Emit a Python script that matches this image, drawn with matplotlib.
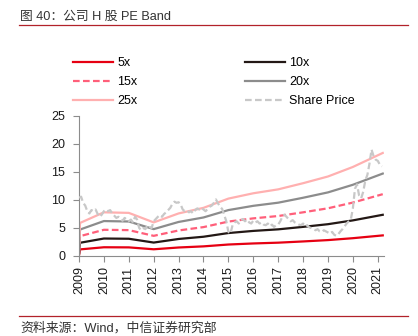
import matplotlib
matplotlib.use("Agg")
import matplotlib.pyplot as plt
from matplotlib.lines import Line2D

plt.rcParams["font.family"] = ["Liberation Sans", "Noto Sans CJK SC"]

# EPS anchor points (price = multiple x EPS)
eps_years = [2009.0, 2009.04, 2010.0, 2011.0, 2012.0, 2013.0, 2014.0, 2015.0,
             2016.0, 2017.0, 2018.0, 2019.0, 2020.0, 2021.2]
eps_vals = [0.03, 0.236, 0.312, 0.308, 0.240, 0.304, 0.344, 0.410,
            0.448, 0.476, 0.520, 0.568, 0.636, 0.736]
multiples = [5, 10, 15, 20, 25]

# monthly share price (HKD), Jan 2009 - Mar 2021
price_2009 = [10.4, 10.6, 9.5, 9.0, 8.0, 7.6, 8.2, 8.0, 8.3, 7.5, 7.0, 7.4]
price_2010 = [8.0, 8.3, 8.0, 8.2, 7.6, 7.2, 6.8, 7.0, 6.6, 6.3, 6.8, 6.5]
price_2011 = [6.2, 6.5, 6.0, 7.0, 6.5, 5.0, 4.6, 5.0, 4.8, 5.5, 5.2, 5.0]
price_2012 = [6.2, 6.6, 7.0, 7.3, 7.0, 7.5, 7.8, 8.2, 8.6, 9.3, 9.7, 9.5]
price_2013 = [9.6, 9.2, 8.3, 8.0, 8.2, 7.8, 8.0, 7.6, 8.2, 8.5, 8.3, 8.6]
price_2014 = [8.3, 8.0, 8.4, 8.8, 9.0, 9.5, 10.1, 9.4, 8.8, 8.4, 7.3, 6.2]
price_2015 = [4.3, 4.0, 5.5, 6.0, 6.2, 5.8, 6.4, 6.6, 6.2, 6.5, 6.0, 5.8]
price_2016 = [6.3, 6.0, 6.2, 5.8, 6.0, 5.6, 5.5, 5.8, 5.3, 5.6, 5.2, 5.5]
price_2017 = [5.6, 6.2, 7.0, 7.4, 7.0, 6.6, 6.2, 6.4, 6.0, 5.8, 5.6, 5.5]
price_2018 = [5.8, 5.3, 5.5, 5.1, 5.0, 4.8, 4.6, 4.8, 4.4, 4.3, 4.6, 4.4]
price_2019 = [4.2, 4.0, 4.3, 3.8, 3.6, 3.9, 4.4, 4.8, 5.3, 5.8, 6.2, 6.5]
price_2020 = [8.5, 12.0, 12.8, 10.8, 10.3, 11.5, 13.5, 14.5, 16.5, 19.0, 17.8, 17.2]
price_2021 = [17.0, 16.3, 16.0]

price_by_year = [price_2009, price_2010, price_2011, price_2012, price_2013,
                 price_2014, price_2015, price_2016, price_2017, price_2018,
                 price_2019, price_2020, price_2021]
price_x = []
price_y = []
for i, vals in enumerate(price_by_year):
    for m, v in enumerate(vals):
        price_x.append(2009 + i + m / 12)
        price_y.append(v)

year_ticks = list(range(2009, 2022))

COLORS = {5: "#e60012", 10: "#231815", 15: "#ff5f7a", 20: "#8c8c8c", 25: "#ffb0b0"}

fig = plt.figure(figsize=(4.18, 3.36), dpi=100)
fig.patch.set_facecolor("white")
ax = fig.add_axes([79 / 418, 1 - 256 / 336, (384 - 79) / 418, (256 - 116) / 336])

lines = {}
for k in multiples:
    ls = (0, (3, 1.5)) if k == 15 else "-"
    lines[k], = ax.plot(eps_years, [k * e for e in eps_vals], color=COLORS[k],
                        lw=1.6, ls=ls, zorder=2, label=f"{k}x")
sp, = ax.plot(price_x, price_y, color="#c8c8c8", lw=1.6, ls=(0, (3, 1.5)),
              zorder=3, label="Share Price")

ax.set_xlim(2009, 2021.25)
ax.set_ylim(0, 25)
ax.set_xticks(year_ticks)
ax.set_xticklabels([str(y) for y in year_ticks], rotation=90)
ax.set_yticks([0, 5, 10, 15, 20, 25])
for s in ["top", "right"]:
    ax.spines[s].set_visible(False)
for s in ["left", "bottom"]:
    ax.spines[s].set_color("#8c8c8c")
    ax.spines[s].set_linewidth(0.8)
ax.tick_params(axis="both", colors="#8c8c8c", labelcolor="#1a1a1a",
               labelsize=9, length=4, width=0.8)
ax.tick_params(axis="y", pad=6)

handles = [lines[5], lines[15], lines[25], lines[10], lines[20], sp]
fig.legend(handles=handles, loc="upper left", ncol=2,
           bbox_to_anchor=(73 / 418, 1 - 57 / 336), frameon=False,
           fontsize=9, handlelength=3.2, handletextpad=0.35,
           columnspacing=8.6, labelspacing=0.58, borderpad=0, borderaxespad=0)

# title and source
fig.text(20 / 418, 1 - 17 / 336, "图 40：公司 H 股 PE Band", fontsize=9.2,
         color="#333333", ha="left", va="center")
fig.add_artist(Line2D([19 / 418, 408 / 418], [1 - 25 / 336, 1 - 25 / 336],
                      color="#b2222a", lw=0.9))
fig.add_artist(Line2D([19 / 418, 408 / 418], [1 - 316 / 336, 1 - 316 / 336],
                      color="#b2222a", lw=0.9))
fig.text(20 / 418, 1 - 328 / 336, "资料来源：Wind，中信证券研究部", fontsize=9.3,
         color="#333333", ha="left", va="center")

fig.savefig("out.png", dpi=100, facecolor="white")
